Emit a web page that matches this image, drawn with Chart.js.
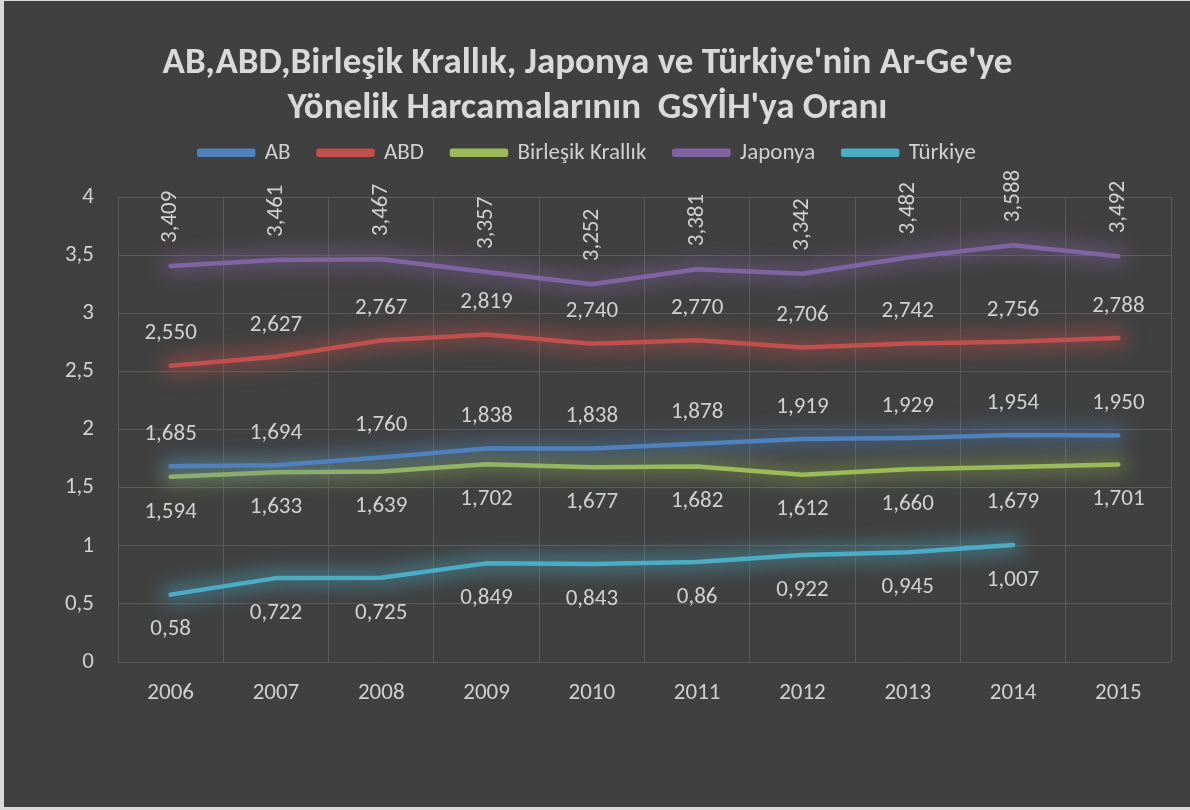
<!DOCTYPE html>
<html>
<head>
<meta charset="utf-8">
<script src="https://cdn.jsdelivr.net/npm/chart.js@4.4.1/dist/chart.umd.min.js"></script>
<style>
html,body{margin:0;padding:0;background:#d9d9d9;width:1190px;height:810px;overflow:hidden;}
#wrap{position:absolute;left:4px;top:1px;width:1186px;height:806px;background:#404040;}
canvas{display:block;}
</style>
</head>
<body>
<div id="wrap"><canvas id="c" width="1186" height="806"></canvas></div>
<script>
const categories = ['2006','2007','2008','2009','2010','2011','2012','2013','2014','2015'];
const seriesNames = ['AB','ABD','Birleşik Krallık','Japonya','Türkiye'];
const ab = [1.685,1.694,1.760,1.838,1.838,1.878,1.919,1.929,1.954,1.950];
const abd = [2.550,2.627,2.767,2.819,2.740,2.770,2.706,2.742,2.756,2.788];
const uk = [1.594,1.633,1.639,1.702,1.677,1.682,1.612,1.660,1.679,1.701];
const japan = [3.409,3.461,3.467,3.357,3.252,3.381,3.342,3.482,3.588,3.492];
const turkey = [0.58,0.722,0.725,0.849,0.843,0.86,0.922,0.945,1.007,null];
const yTicks = [0,0.5,1,1.5,2,2.5,3,3.5,4];
const colors = ['#4f81bd','#c0504d','#9bbb59','#8064a2','#4bacc6'];
const glowColors = ['rgba(79,129,189,0.42)','rgba(192,80,77,0.42)','rgba(155,187,89,0.36)','rgba(128,100,162,0.42)','rgba(75,172,198,0.42)'];
// label placement: 'above', 'below', 'rot'
const labelPos = ['above','above','below','rot','below'];
const labelFixed = [true,true,true,true,false];

const FONT = "Carlito, Calibri, 'Open Sans', sans-serif";
const fmt = (v, fixed) => (fixed ? v.toFixed(3) : String(v)).replace('.', ',');

const glowPlugin = {
  id: 'glow',
  beforeDatasetDraw(chart, args) {
    const ctx = chart.ctx;
    const pts = args.meta.data.filter(p => !p.skip);
    if (pts.length < 2) return;
    ctx.save();
    ctx.filter = 'blur(9px)';
    ctx.strokeStyle = glowColors[args.index];
    ctx.lineWidth = 20;
    ctx.lineJoin = 'round';
    ctx.lineCap = 'round';
    ctx.beginPath();
    ctx.moveTo(pts[0].x, pts[0].y);
    for (let i = 1; i < pts.length; i++) ctx.lineTo(pts[i].x, pts[i].y);
    ctx.stroke();
    ctx.restore();
  }
};

const labelPlugin = {
  id: 'valueLabels',
  afterDatasetsDraw(chart) {
    const ctx = chart.ctx;
    ctx.save();
    ctx.fillStyle = '#d0d0d0';
    ctx.font = "23px " + FONT;
    chart.data.datasets.forEach((ds, di) => {
      const meta = chart.getDatasetMeta(di);
      meta.data.forEach((pt, i) => {
        const v = ds.data[i];
        if (v === null || v === undefined) return;
        const t = fmt(v, labelFixed[di]);
        const pos = labelPos[di];
        if (pos === 'rot') {
          ctx.save();
          ctx.translate(pt.x, pt.y - 23);
          ctx.rotate(-Math.PI / 2);
          ctx.textAlign = 'left';
          ctx.textBaseline = 'middle';
          ctx.fillText(t, 0, 0);
          ctx.restore();
        } else {
          ctx.textAlign = 'center';
          ctx.textBaseline = 'middle';
          ctx.fillText(t, pt.x, pos === 'above' ? pt.y - 32 : pt.y + 35);
        }
      });
    });
    ctx.restore();
  }
};

const datasets = [ab, abd, uk, japan, turkey].map((d, i) => ({
  label: seriesNames[i],
  data: d,
  borderColor: colors[i],
  backgroundColor: colors[i],
  borderWidth: 4.5,
  pointRadius: 0,
  pointHoverRadius: 0,
  fill: false,
  tension: 0,
  borderCapStyle: 'round',
  borderJoinStyle: 'round',
  spanGaps: false
}));

new Chart(document.getElementById('c'), {
  type: 'line',
  data: { labels: categories, datasets: datasets },
  options: {
    responsive: false,
    animation: false,
    layout: { padding: { left: 0, right: 19, top: 0, bottom: 100 } },
    plugins: {
      title: {
        display: true,
        text: ["AB,ABD,Birleşik Krallık, Japonya ve Türkiye'nin Ar-Ge'ye", "Yönelik Harcamalarının  GSYİH'ya Oranı"],
        color: '#d9d9d9',
        font: { family: FONT, size: 37, weight: 'bold', lineHeight: 1.22 },
        padding: { top: 40, bottom: -18 }
      },
      legend: {
        display: true,
        position: 'top',
        labels: {
          color: '#d0d0d0',
          font: { family: FONT, size: 23 },
          boxWidth: 54,
          boxHeight: 4,
          padding: 28
        }
      },
      tooltip: { enabled: false }
    },
    scales: {
      x: {
        offset: true,
        grid: { color: '#5a5a5a', lineWidth: 1, drawTicks: false, offset: true },
        border: { display: false },
        ticks: { color: '#d0d0d0', font: { family: FONT, size: 23 }, padding: 17 },
        afterFit(s) { s.height = 45; }
      },
      gap: {
        type: 'category',
        position: 'top',
        display: true,
        grid: { display: false },
        border: { display: false },
        ticks: { display: false },
        afterFit(s) { s.height = 23; }
      },
      y: {
        min: 0, max: 4,
        grid: { color: '#5a5a5a', lineWidth: 1, drawTicks: false },
        border: { display: false },
        afterBuildTicks(s) { s.ticks = yTicks.map(v => ({ value: v })); },
        ticks: {
          color: '#d0d0d0',
          font: { family: FONT, size: 23 },
          padding: 24,
          callback: v => String(v).replace('.', ',')
        },
        afterFit(s) { s.width = 114; }
      }
    }
  },
  plugins: [glowPlugin, labelPlugin]
});
</script>
</body>
</html>
